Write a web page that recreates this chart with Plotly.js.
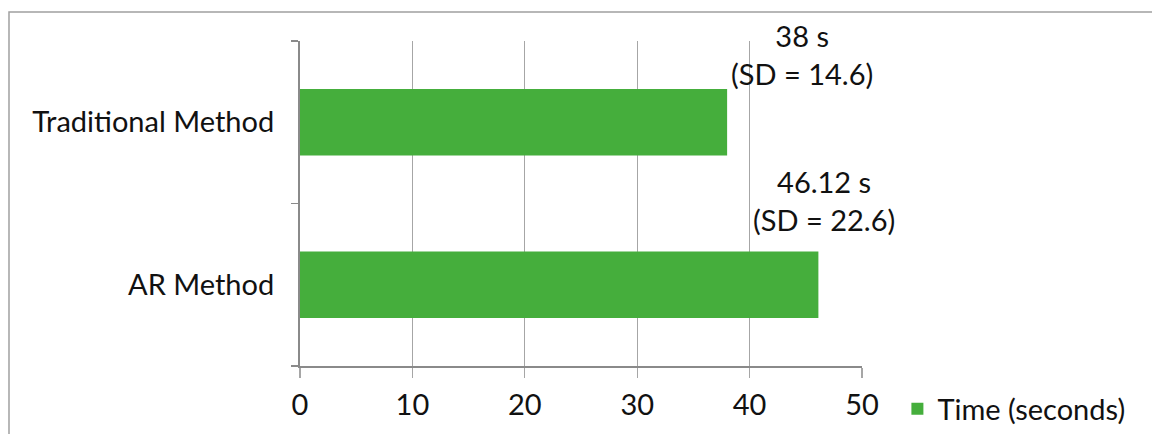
<!DOCTYPE html>
<html>
<head>
<meta charset="utf-8">
<script src="https://cdn.plot.ly/plotly-3.0.1.min.js"></script>
<style>html,body{margin:0;padding:0;background:#fff;}#chart{width:1152px;height:434px;}</style>
</head>
<body>
<div id="chart"></div>
<script>
// Data
const categories = ['AR Method', 'Traditional Method'];
const timeSeconds = [46.12, 38];
const sdSeconds = [22.6, 14.6];
const seriesName = 'Time (seconds)';
const xTicks = [0, 10, 20, 30, 40, 50];

const FONT = 'Lato, "Open Sans", sans-serif';
const FS = 29;
const green = '#45ae3c';

const labelPos = [ {x: 46.58, y: 0.51}, {x: 44.67, y: 0.96} ];

const annotations = categories.map((c, i) => ({
  xref: 'x', yref: 'paper',
  x: labelPos[i].x, y: labelPos[i].y,
  xanchor: 'center', yanchor: 'middle',
  showarrow: false,
  text: timeSeconds[i] + ' s<br>(SD = ' + sdSeconds[i] + ')',
  font: {family: FONT, size: FS, color: '#111'}
}));

const trace = {
  type: 'bar', orientation: 'h',
  y: categories, x: timeSeconds,
  name: seriesName,
  marker: {color: green},
  showlegend: true,
  hoverinfo: 'none'
};

const layout = {
  width: 1152, height: 434,
  margin: {l: 300, r: 290, t: 41, b: 68, autoexpand: false},
  paper_bgcolor: '#fff', plot_bgcolor: '#fff',
  font: {family: FONT, size: FS, color: '#111'},
  bargap: 0.59,
  xaxis: {
    range: [0, 50], tickvals: xTicks, ticktext: xTicks.map(String),
    showgrid: true, gridcolor: '#a6a6a6', gridwidth: 1.3,
    showline: true, linecolor: '#8a8a8a', linewidth: 1.5,
    ticks: 'outside', ticklen: 10, tickcolor: '#a6a6a6', tickwidth: 1.3,
    zeroline: false, fixedrange: true, automargin: false,
    ticklabelstandoff: 3,
    tickfont: {family: FONT, size: FS, color: '#111'}
  },
  yaxis: {
    type: 'category', categoryorder: 'array', categoryarray: categories,
    showline: true, linecolor: '#8a8a8a', linewidth: 2,
    ticks: 'outside', tickson: 'boundaries', ticklen: 7, tickcolor: '#8a8a8a', tickwidth: 1.5,
    showgrid: false, zeroline: false, fixedrange: true, automargin: false,
    ticklabelstandoff: 18,
    tickfont: {family: FONT, size: FS, color: '#111'}
  },
  showlegend: true,
  legend: {
    x: 1.063, xanchor: 'left', y: -0.132, yanchor: 'middle',
    orientation: 'h', bgcolor: 'rgba(0,0,0,0)',
    font: {family: FONT, size: FS, color: '#111'}
  },
  annotations: annotations,
  shapes: [{
    type: 'rect', xref: 'paper', yref: 'paper',
    x0: -0.5178, x1: 1.56, y0: -0.25, y1: 1.0892,
    line: {color: '#a0a0a0', width: 1.5}, fillcolor: 'rgba(0,0,0,0)', layer: 'below'
  }]
};

Plotly.newPlot('chart', [trace], layout, {staticPlot: true, displayModeBar: false});
</script>
</body>
</html>
